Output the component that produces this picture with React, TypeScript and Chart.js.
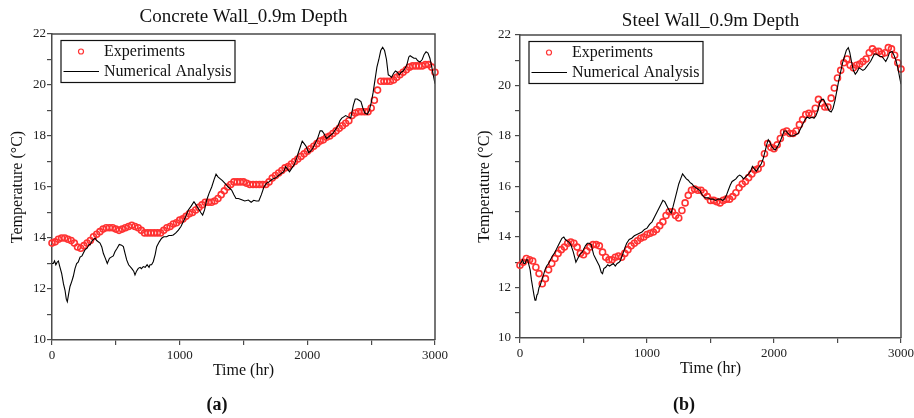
import React, { useEffect, useRef } from "react";
import { Chart, registerables } from "chart.js";

Chart.register(...registerables);

const FONT = "'Liberation Serif', 'Times New Roman', Times, serif";
const AXIS_COLOR = "#4a4a4a";
const RED = "rgb(255,50,50)";

// Experiment sampling grid (hours), one reading every 25 h
const EXP_TIMES: number[] = Array.from({ length: 121 }, (_, i) => i * 25);

// (a) Concrete wall — experiments
const CONCRETE_EXP: number[] = [
  13.8, 13.85, 13.95, 14.0, 14.0, 13.95, 13.9, 13.8, 13.65, 13.6,
  13.7, 13.8, 13.9, 14.05, 14.15, 14.25, 14.35, 14.4, 14.4, 14.4,
  14.35, 14.3, 14.35, 14.4, 14.45, 14.5, 14.45, 14.4, 14.3, 14.2,
  14.2, 14.2, 14.2, 14.2, 14.2, 14.3, 14.4, 14.45, 14.55, 14.6,
  14.7, 14.75, 14.85, 14.95, 15.0, 15.1, 15.2, 15.3, 15.4, 15.4,
  15.4, 15.45, 15.55, 15.7, 15.85, 16.0, 16.1, 16.2, 16.2, 16.2,
  16.2, 16.15, 16.1, 16.1, 16.1, 16.1, 16.1, 16.1, 16.2, 16.35,
  16.45, 16.55, 16.65, 16.75, 16.8, 16.9, 17.0, 17.1, 17.2, 17.3,
  17.4, 17.5, 17.6, 17.7, 17.8, 17.85, 17.95, 18.0, 18.1, 18.2,
  18.3, 18.4, 18.5, 18.6, 18.8, 18.9, 18.95, 18.95, 18.95, 18.95,
  19.1, 19.4, 19.8, 20.15, 20.15, 20.15, 20.15, 20.2, 20.3, 20.4,
  20.5, 20.6, 20.7, 20.75, 20.75, 20.75, 20.75, 20.8, 20.8, 20.7,
  20.5,
];

// (a) Concrete wall — numerical analysis
const CONCRETE_NUM_T: number[] = [
  0, 10, 20, 30, 40, 50, 60, 76, 90, 102, 112, 120, 130, 141, 155, 167, 180, 193, 205, 220,
  235, 245, 260, 275, 290, 298, 315, 337, 350, 376, 390, 402, 418, 433, 450, 467, 480, 493, 510, 527,
  545, 559, 572, 585, 600, 624, 640, 650, 662, 676, 690, 700, 715, 730, 745, 760, 768, 780, 793, 808,
  820, 840, 859, 875, 898, 915, 935, 950, 970, 990, 1010, 1028, 1048, 1068, 1090, 1112, 1128, 1146, 1165, 1180,
  1195, 1212, 1230, 1251, 1270, 1285, 1300, 1316, 1335, 1355, 1380, 1407, 1425, 1441, 1460, 1486, 1510, 1538, 1560, 1580,
  1600, 1620, 1640, 1660, 1680, 1700, 1725, 1750, 1775, 1800, 1815, 1830, 1845, 1860, 1880, 1900, 1920, 1940, 1960, 1975,
  1990, 2010, 2025, 2040, 2060, 2080, 2100, 2115, 2130, 2150, 2175, 2200, 2220, 2240, 2255, 2270, 2285, 2300, 2320, 2340,
  2360, 2375, 2390, 2405, 2420, 2435, 2450, 2470, 2485, 2500, 2515, 2530, 2545, 2560, 2575, 2590, 2605, 2620, 2634, 2650,
  2660, 2675, 2690, 2705, 2720, 2735, 2750, 2765, 2780, 2795, 2805, 2820, 2835, 2850, 2865, 2882, 2900, 2915, 2930, 2945,
  2960, 2975, 2990, 3000,
];
const CONCRETE_NUM: number[] = [
  13.0, 13.0, 13.1, 12.95, 13.05, 13.1, 12.9, 12.6, 12.2, 11.95, 11.6, 11.5, 11.8, 12.1, 12.3, 12.5, 12.8, 13.0, 13.05, 13.25,
  13.3, 13.4, 13.55, 13.6, 13.75, 13.73, 13.9, 14.0, 13.9, 13.8, 13.65, 13.4, 13.2, 13.0, 13.2, 13.26, 13.3, 13.46, 13.6, 13.75,
  13.72, 13.66, 13.4, 13.14, 12.95, 12.81, 12.7, 12.55, 12.7, 12.81, 12.85, 12.8, 12.88, 12.85, 12.95, 12.85, 12.95, 12.95, 13.07, 13.35,
  13.66, 13.85, 13.99, 14.05, 14.05, 14.1, 14.1, 14.12, 14.2, 14.31, 14.45, 14.64, 14.85, 15.1, 15.25, 15.42, 15.3, 15.16, 15.0, 14.9,
  15.1, 15.49, 15.75, 16.0, 16.3, 16.5, 16.4, 16.33, 16.25, 16.14, 16.0, 15.88, 15.7, 15.55, 15.55, 15.5, 15.45, 15.49, 15.4, 15.48,
  15.45, 15.45, 15.7, 16.0, 16.15, 16.2, 16.3, 16.35, 16.45, 16.55, 16.6, 16.8, 16.7, 16.6, 16.75, 16.9, 17.2, 17.5, 17.8, 17.7,
  17.6, 17.35, 17.4, 17.5, 17.7, 17.9, 18.2, 18.2, 18.1, 17.9, 18.0, 18.1, 18.25, 18.4, 18.6, 18.7, 18.75, 18.8, 18.75, 18.7,
  19.2, 19.45, 19.45, 19.4, 19.35, 19.1, 18.9, 18.85, 19.0, 19.3, 19.7, 20.2, 20.7, 21.0, 21.35, 21.48, 21.35, 21.0, 20.4, 20.35,
  20.3, 20.45, 20.55, 20.5, 20.4, 20.5, 20.55, 20.65, 20.8, 21.1, 21.15, 21.1, 21.05, 21.05, 20.95, 20.9, 21.0, 21.2, 21.3, 21.25,
  21.05, 20.7, 20.3, 20.05,
];

// (b) Steel wall — experiments
const STEEL_EXP: number[] = [
  12.88, 13.0, 13.15, 13.1, 13.05, 12.8, 12.55, 12.15, 12.35, 12.7,
  12.95, 13.15, 13.35, 13.5, 13.6, 13.75, 13.8, 13.75, 13.6, 13.35,
  13.3, 13.45, 13.6, 13.7, 13.7, 13.65, 13.4, 13.2, 13.1, 13.1,
  13.2, 13.25, 13.2, 13.35, 13.5, 13.65, 13.75, 13.85, 13.95, 14.0,
  14.1, 14.15, 14.2, 14.3, 14.45, 14.6, 14.85, 15.0, 15.0, 14.85,
  14.75, 15.05, 15.35, 15.65, 15.85, 15.9, 15.85, 15.85, 15.75, 15.6,
  15.45, 15.45, 15.4, 15.35, 15.45, 15.5, 15.5, 15.6, 15.75, 15.95,
  16.1, 16.2, 16.35, 16.5, 16.65, 16.7, 16.9, 17.3, 17.7, 17.55,
  17.5, 17.65, 17.9, 18.15, 18.2, 18.1, 18.1, 18.2, 18.45, 18.65,
  18.85, 18.9, 18.85, 19.1, 19.45, 19.3, 19.15, 19.15, 19.5, 19.9,
  20.3, 20.6, 20.9, 21.05, 20.8, 20.7, 20.8, 20.85, 20.95, 21.05,
  21.3, 21.45, 21.35, 21.35, 21.25, 21.3, 21.5, 21.45, 21.2, 20.9,
  20.65,
];

// (b) Steel wall — numerical analysis
const STEEL_NUM_T: number[] = [
  0, 10, 20, 30, 40, 50, 60, 70, 80, 90, 100, 110, 118, 125, 133, 140, 150, 160, 172, 185,
  197, 210, 225, 240, 255, 270, 285, 300, 315, 330, 345, 357, 370, 385, 400, 410, 420, 430, 440, 450,
  460, 470, 480, 490, 500, 515, 530, 545, 560, 570, 580, 595, 610, 625, 640, 650, 660, 675, 690, 705,
  720, 735, 750, 765, 780, 790, 800, 815, 828, 840, 860, 880, 900, 920, 940, 960, 980, 1000, 1020, 1040,
  1060, 1080, 1095, 1110, 1125, 1140, 1160, 1175, 1190, 1205, 1220, 1235, 1250, 1265, 1280, 1295, 1310, 1325, 1340, 1355,
  1370, 1385, 1400, 1415, 1430, 1445, 1460, 1480, 1500, 1520, 1540, 1560, 1580, 1595, 1610, 1625, 1640, 1655, 1670, 1685,
  1700, 1715, 1730, 1745, 1760, 1780, 1800, 1815, 1830, 1845, 1860, 1880, 1900, 1915, 1930, 1945, 1955, 1968, 1980, 1995,
  2010, 2030, 2050, 2065, 2080, 2095, 2110, 2130, 2150, 2170, 2190, 2210, 2230, 2245, 2260, 2280, 2300, 2315, 2330, 2345,
  2360, 2375, 2390, 2405, 2420, 2435, 2450, 2465, 2480, 2495, 2510, 2525, 2540, 2555, 2570, 2585, 2597, 2610, 2625, 2640,
  2655, 2670, 2685, 2700, 2715, 2730, 2745, 2760, 2775, 2790, 2805, 2820, 2835, 2850, 2865, 2880, 2895, 2910, 2930, 2945,
  2960, 2975, 2990, 3000,
];
const STEEL_NUM: number[] = [
  12.94, 13.0, 13.1, 12.95, 12.95, 13.1, 13.1, 12.9, 12.7, 12.3, 12.0, 11.7, 11.5, 11.5, 11.7, 11.75, 12.0, 12.1, 12.3, 12.5,
  12.7, 12.85, 12.95, 13.1, 13.25, 13.35, 13.5, 13.65, 13.8, 13.95, 14.0, 13.9, 13.85, 13.8, 13.7, 13.55, 13.4, 13.2, 13.0, 13.1,
  13.2, 13.3, 13.35, 13.4, 13.5, 13.65, 13.75, 13.75, 13.7, 13.5, 13.3, 13.15, 13.0, 12.85, 12.6, 12.55, 12.75, 12.8, 12.9, 12.85,
  12.9, 12.95, 12.85, 12.95, 13.0, 13.05, 13.2, 13.4, 13.6, 13.75, 13.9, 13.95, 14.05, 14.1, 14.15, 14.2, 14.3, 14.35, 14.5, 14.6,
  14.8, 15.0, 15.15, 15.3, 15.45, 15.4, 15.2, 15.05, 14.95, 15.2, 15.5, 15.8, 16.1, 16.3, 16.5, 16.4, 16.3, 16.25, 16.15, 16.1,
  16.0, 15.95, 15.9, 15.85, 15.7, 15.6, 15.55, 15.55, 15.5, 15.5, 15.45, 15.5, 15.5, 15.45, 15.5, 15.65, 15.85, 16.05, 16.2, 16.25,
  16.3, 16.4, 16.45, 16.4, 16.3, 16.4, 16.5, 16.6, 16.8, 16.7, 16.6, 16.75, 16.9, 17.1, 17.4, 17.7, 17.85, 17.75, 17.6, 17.5,
  17.45, 17.6, 17.8, 18.0, 18.2, 18.2, 18.1, 18.0, 18.0, 18.05, 18.1, 18.3, 18.5, 18.65, 18.75, 18.7, 18.75, 18.7, 18.8, 19.0,
  19.3, 19.45, 19.45, 19.3, 19.15, 19.0, 18.95, 19.1, 19.4, 19.8, 20.2, 20.55, 20.9, 21.15, 21.4, 21.5, 21.3, 20.95, 20.6, 20.45,
  20.55, 20.7, 20.65, 20.6, 20.65, 20.75, 20.85, 20.95, 21.1, 21.25, 21.25, 21.2, 21.15, 21.15, 21.05, 20.95, 21.1, 21.3, 21.35, 21.2,
  21.0, 20.7, 20.3, 20.05,
];

const X_MIN = 0;
const X_MAX = 3000;
const X_STEP = 500;
const X_LABEL_EVERY = 1000;
const Y_MIN = 10;
const Y_MAX = 22;
const Y_STEP = 1;
const Y_LABEL_EVERY = 2;

const LEGEND_EXP = "Experiments";
const LEGEND_NUM = "Numerical Analysis";
const X_TITLE = "Time (hr)";
const Y_TITLE = "Temperature (\u00B0C)";

type Panel = {
  title: string;
  caption: string;
  exp: number[];
  numT: number[];
  num: number[];
  yAxisWidth: number;
  padRight: number;
  titlePadTop: number;
  titlePadBottom: number;
  xAxisHeight: number;
  padBottom: number;
  yTitlePad: number;
  yTickPad: number;
};

const PANELS: Panel[] = [
  {
    title: "Concrete Wall_0.9m Depth",
    caption: "(a)",
    exp: CONCRETE_EXP,
    numT: CONCRETE_NUM_T,
    num: CONCRETE_NUM,
    yAxisWidth: 52,
    padRight: 22,
    titlePadTop: 6,
    titlePadBottom: 5.2,
    xAxisHeight: 40,
    padBottom: 38,
    yTitlePad: 8,
    yTickPad: 1,
  },
  {
    title: "Steel Wall_0.9m Depth",
    caption: "(b)",
    exp: STEEL_EXP,
    numT: STEEL_NUM_T,
    num: STEEL_NUM,
    yAxisWidth: 63,
    padRight: 13,
    titlePadTop: 9.2,
    titlePadBottom: 3,
    xAxisHeight: 40,
    padBottom: 40,
    yTitlePad: 18.4,
    yTickPad: 4,
  },
];

const decorPlugin = {
  id: "decor",
  afterDraw(chart: any, _args: any, opts: any) {
    const { ctx, chartArea: a } = chart;
    ctx.save();
    // frame (top + right)
    ctx.strokeStyle = AXIS_COLOR;
    ctx.lineWidth = 1.5;
    ctx.beginPath();
    ctx.moveTo(a.left, a.top);
    ctx.lineTo(a.right, a.top);
    ctx.lineTo(a.right, a.bottom);
    ctx.stroke();

    // legend
    const bx = a.left + 9;
    const by = a.top + 6.5;
    const bw = 174;
    const bh = 42;
    ctx.fillStyle = "#fff";
    ctx.fillRect(bx, by, bw, bh);
    ctx.strokeStyle = "#111";
    ctx.lineWidth = 1.2;
    ctx.strokeRect(bx, by, bw, bh);

    ctx.strokeStyle = RED;
    ctx.lineWidth = 1.2;
    ctx.beginPath();
    ctx.arc(a.left + 29, a.top + 17.5, 2.5, 0, Math.PI * 2);
    ctx.stroke();

    ctx.strokeStyle = "#000";
    ctx.lineWidth = 1.1;
    ctx.beginPath();
    ctx.moveTo(a.left + 11.5, a.top + 37.5);
    ctx.lineTo(a.left + 47, a.top + 37.5);
    ctx.stroke();

    ctx.fillStyle = "#111";
    ctx.font = `16px ${FONT}`;
    ctx.textAlign = "left";
    ctx.textBaseline = "middle";
    ctx.fillText(LEGEND_EXP, a.left + 52, a.top + 18);
    ctx.fillText(LEGEND_NUM, a.left + 52, a.top + 38);

    // caption
    ctx.font = `bold 18px ${FONT}`;
    ctx.textAlign = "center";
    ctx.fillText(opts.caption, (a.left + a.right) / 2 - 26.5, 405);
    ctx.restore();
  },
};

function ChartPanel({ panel }: { panel: Panel }) {
  const ref = useRef<HTMLCanvasElement | null>(null);
  useEffect(() => {
    if (!ref.current) return;
    const expData = EXP_TIMES.map((t, i) => ({ x: t, y: panel.exp[i] }));
    const numData = panel.numT.map((t, i) => ({ x: t, y: panel.num[i] }));
    const chart = new Chart(ref.current, {
      type: "line",
      data: {
        datasets: [
          {
            label: LEGEND_NUM,
            data: numData,
            borderColor: "#000",
            borderWidth: 1.1,
            pointRadius: 0,
            tension: 0,
            fill: false,
          },
          {
            label: LEGEND_EXP,
            data: expData,
            showLine: false,
            borderColor: RED,
            backgroundColor: "rgba(0,0,0,0)",
            pointRadius: 3,
            pointBorderWidth: 1.6,
            pointStyle: "circle",
            clip: 5,
          },
        ],
      },
      options: {
        responsive: false,
        animation: false,
        devicePixelRatio: 1,
        layout: {
          padding: { left: 0, right: panel.padRight, top: 0, bottom: panel.padBottom },
        },
        plugins: {
          legend: { display: false },
          tooltip: { enabled: false },
          title: {
            display: true,
            text: panel.title,
            fullSize: false,
            color: "#111",
            font: { family: FONT, size: 19, weight: "normal" },
            padding: { top: panel.titlePadTop, bottom: panel.titlePadBottom },
          },
          decor: { caption: panel.caption },
        } as any,
        scales: {
          x: {
            type: "linear",
            min: X_MIN,
            max: X_MAX,
            afterFit: (s: any) => {
              s.height = panel.xAxisHeight;
              s.paddingLeft = 0;
              s.paddingRight = 0;
            },
            ticks: {
              stepSize: X_STEP,
              autoSkip: false,
              maxRotation: 0,
              padding: 3,
              color: "#222",
              font: { family: FONT, size: 13 },
              callback: (v: any) => (Number(v) % X_LABEL_EVERY === 0 ? String(v) : ""),
            },
            grid: {
              display: true,
              drawOnChartArea: false,
              drawTicks: true,
              tickLength: 5,
              color: AXIS_COLOR,
              lineWidth: 1.2,
            },
            border: { display: true, color: AXIS_COLOR, width: 1.5 },
            title: {
              display: true,
              text: X_TITLE,
              color: "#111",
              font: { family: FONT, size: 16 },
              padding: { top: 0, bottom: 0 },
            },
          },
          y: {
            type: "linear",
            min: Y_MIN,
            max: Y_MAX,
            afterFit: (s: any) => {
              s.width = panel.yAxisWidth;
              s.paddingTop = 0;
              s.paddingBottom = 0;
            },
            ticks: {
              stepSize: Y_STEP,
              autoSkip: false,
              padding: panel.yTickPad,
              color: "#222",
              font: { family: FONT, size: 13 },
              callback: (v: any) => (Number(v) % Y_LABEL_EVERY === 0 ? String(v) : ""),
            },
            grid: {
              display: true,
              drawOnChartArea: false,
              drawTicks: true,
              tickLength: 5,
              color: AXIS_COLOR,
              lineWidth: 1.2,
            },
            border: { display: true, color: AXIS_COLOR, width: 1.5 },
            title: {
              display: true,
              text: Y_TITLE,
              color: "#111",
              font: { family: FONT, size: 16 },
              padding: { top: panel.yTitlePad, bottom: 0 },
            },
          },
        },
      } as any,
      plugins: [decorPlugin as any],
    });
    return () => chart.destroy();
  }, [panel]);
  return (
    <div style={{ width: 457, height: 418, position: "relative" }}>
      <canvas ref={ref} width={457} height={418} style={{ display: "block" }} />
    </div>
  );
}

export default function App() {
  return (
    <div
      style={{
        position: "fixed",
        left: 0,
        top: 0,
        width: 914,
        height: 418,
        background: "#fff",
        display: "flex",
        overflow: "hidden",
      }}
    >
      {PANELS.map((p) => (
        <ChartPanel key={p.caption} panel={p} />
      ))}
    </div>
  );
}
